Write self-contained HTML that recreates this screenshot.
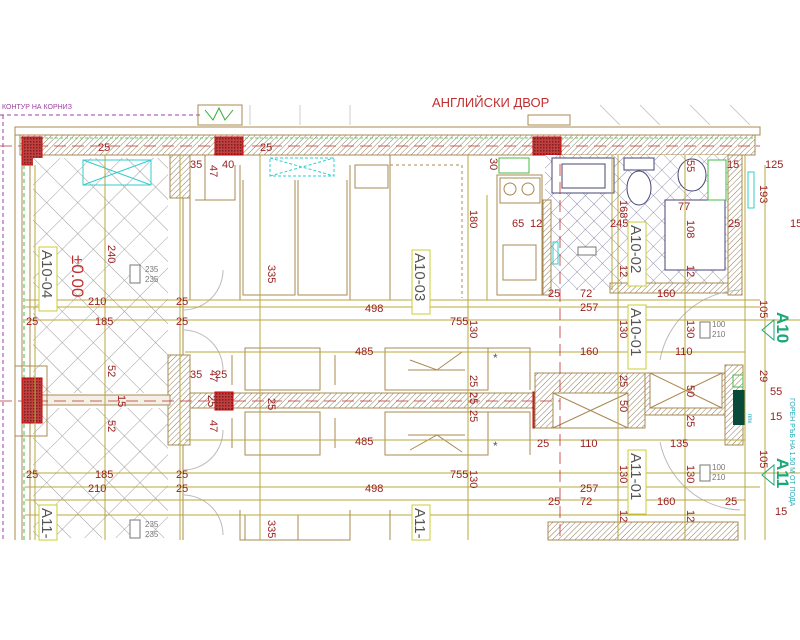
<!DOCTYPE html>
<html><head><meta charset="utf-8"><style>
html,body{margin:0;padding:0;background:#fff;}
svg{display:block;font-family:"Liberation Sans","DejaVu Sans",sans-serif;}
.d{fill:#9a2020;font-size:11px;}
.s{stroke:#a88850;fill:none;stroke-width:1;}
.dm{stroke:#b8a838;stroke-width:1;fill:none;}
</style></head><body>
<svg width="800" height="640" viewBox="0 0 800 640">
<defs>
<pattern id="h" width="4" height="4" patternUnits="userSpaceOnUse" patternTransform="rotate(45)"><rect width="4" height="4" fill="#fff"/><line x1="0" y1="0" x2="0" y2="4" stroke="#8c7a5a" stroke-width="1"/></pattern>
<pattern id="t" width="22" height="22" patternUnits="userSpaceOnUse" patternTransform="rotate(45)"><rect width="22" height="22" fill="#fff"/><path d="M0 0H22M0 0V22" stroke="#999" stroke-width="0.9"/></pattern>
<pattern id="tb" width="12" height="12" patternUnits="userSpaceOnUse" patternTransform="rotate(45)"><rect width="12" height="12" fill="#fff"/><path d="M0 0H12M0 0V12" stroke="#7a7a9a" stroke-width="0.8"/></pattern>
<pattern id="c" width="3" height="3" patternUnits="userSpaceOnUse"><rect width="3" height="3" fill="#c04040"/><rect width="1.5" height="1.5" fill="#7a2020"/></pattern>
</defs>
<rect width="800" height="640" fill="#fff"/>
<path d="M0 115H200M3 115V540" stroke="#a040a0" stroke-dasharray="4 3" fill="none"/>
<text x="2" y="109" font-size="7" fill="#a040a0">КОНТУР НА КОРНИЗ</text>
<text x="432" y="107" font-size="13" fill="#c03030">АНГЛИЙСКИ ДВОР</text>
<rect x="198" y="105" width="44" height="20" fill="none" stroke="#a88850"/>
<path d="M205 110l8 10 6-12 6 12 8-10" stroke="#3a3" fill="none"/>
<rect x="528" y="115" width="42" height="10" fill="none" stroke="#a88850"/>
<path d="M250 105V125M300 105V125M350 105V125M600 105L620 125M640 105L660 125M690 105L710 125M730 105L750 125" stroke="#ccc"/>
<rect x="15" y="127" width="745" height="8" fill="none" stroke="#a88850"/>
<rect x="20" y="135" width="735" height="20" fill="url(#h)" stroke="#a88850"/>
<line x1="20" y1="138" x2="755" y2="138" stroke="#6c6" stroke-dasharray="3 2"/>
<rect x="22" y="137" width="20" height="28" fill="url(#c)" stroke="#c00"/>
<rect x="215" y="137" width="28" height="18" fill="url(#c)" stroke="#c00"/>
<rect x="533" y="137" width="28" height="18" fill="url(#c)" stroke="#c00"/>
<rect x="33" y="158" width="135" height="235" fill="url(#t)"/>
<rect x="33" y="408" width="135" height="130" fill="url(#t)"/>
<path d="M15 135V540M22 165V540M30 165V540" class="s"/>
<line x1="24" y1="165" x2="24" y2="540" stroke="#4b4" stroke-dasharray="4 3"/>
<rect x="170" y="155" width="20" height="43" fill="url(#h)" stroke="#a88850"/>
<rect x="168" y="355" width="22" height="90" fill="url(#h)" stroke="#a88850"/>
<rect x="190" y="393" width="345" height="15" fill="url(#h)" stroke="#a88850"/>
<rect x="30" y="395" width="140" height="10" fill="#f4f0e8" stroke="#a88850"/>
<rect x="15" y="366" width="32" height="70" fill="none" stroke="#a88850"/>
<rect x="22" y="378" width="20" height="45" fill="url(#c)" stroke="#c00"/>
<rect x="215" y="392" width="18" height="18" fill="url(#c)" stroke="#c00"/>
<rect x="533" y="392" width="20" height="36" fill="url(#c)" stroke="#c00"/>
<path d="M180 198V355M183 198V355M180 445V540M183 445V540" class="s"/>
<path d="M183 310A40 40 0 0 0 223 270M183 330A40 40 0 0 1 223 370M183 470A40 40 0 0 0 223 430M183 495A40 40 0 0 1 223 535" stroke="#bbb" fill="none"/>
<rect x="83" y="160" width="68" height="25" fill="none" stroke="#3cc"/>
<path d="M83 160L151 185M83 185L151 160" stroke="#3cc"/>
<rect x="270" y="158" width="64" height="18" fill="none" stroke="#3cc" stroke-dasharray="3 2"/>
<path d="M270 158L334 176M270 176L334 158" stroke="#3cc" stroke-dasharray="3 2"/>
<path d="M190 198V300M240 165V300H350V165M243 180V295H295V180M298 180V295H347V180M355 165H388V188H355ZM390 155V300" class="s"/>
<path d="M390 165H462V298" stroke="#a88850" stroke-dasharray="3 3" fill="none"/>
<path d="M205 155V200M235 165V200H195" class="s"/>
<path d="M240 510V540H350V510M245 515V540M298 515V540M390 510V540" class="s"/>
<path d="M245 348H320V390H245ZM245 412H320V455H245ZM232 355V385M335 355V385M232 418V448M335 418V448M385 348H488V390H385ZM385 412H488V455H385ZM488 348H530V390M488 412H530V455M408 370H465M408 435H465M410 360L437 370L462 352M410 450L437 435L462 452" class="s"/>
<text x="493" y="362" font-size="12" fill="#555">*</text><text x="493" y="450" font-size="12" fill="#555">*</text>
<rect x="497" y="175" width="45" height="120" class="s"/>
<rect x="500" y="178" width="40" height="25" class="s"/><circle cx="510" cy="189" r="6" class="s"/><circle cx="528" cy="189" r="6" class="s"/>
<rect x="503" y="245" width="33" height="35" class="s"/>
<rect x="499" y="158" width="30" height="15" fill="none" stroke="#4b4"/>
<rect x="545" y="155" width="185" height="135" fill="url(#tb)"/>
<rect x="543" y="200" width="8" height="95" fill="url(#h)" stroke="#a88850"/>
<rect x="610" y="283" width="132" height="10" fill="url(#h)" stroke="#a88850"/>
<rect x="728" y="155" width="14" height="140" fill="url(#h)" stroke="#a88850"/>
<rect x="552" y="158" width="62" height="35" fill="#fff" stroke="#447"/><rect x="562" y="164" width="43" height="24" fill="none" stroke="#447"/>
<rect x="624" y="158" width="30" height="12" fill="#fff" stroke="#447"/><ellipse cx="639" cy="188" rx="12" ry="17" fill="#fff" stroke="#447"/>
<ellipse cx="692" cy="175" rx="14" ry="16" fill="#fff" stroke="#447"/>
<rect x="665" y="200" width="60" height="70" fill="#fff" stroke="#447"/>
<rect x="708" y="160" width="18" height="40" fill="#fff" stroke="#4b4"/>
<rect x="553" y="242" width="5" height="22" fill="none" stroke="#3cc"/>
<rect x="748" y="172" width="6" height="36" fill="none" stroke="#3cc"/>
<rect x="578" y="247" width="18" height="8" fill="#fff" stroke="#777"/>
<rect x="535" y="373" width="110" height="55" fill="url(#h)" stroke="#a88850"/>
<rect x="553" y="393" width="75" height="35" fill="#fff" stroke="#a88850"/><path d="M553 393L628 428M553 428L628 393" stroke="#a88850"/>
<rect x="645" y="373" width="80" height="42" fill="url(#h)" stroke="#a88850"/>
<rect x="650" y="373" width="72" height="35" fill="#fff" stroke="#a88850"/><path d="M650 373L722 408M650 408L722 373" stroke="#a88850"/>
<rect x="725" y="365" width="18" height="80" fill="url(#h)" stroke="#a88850"/>
<path d="M733 390L745 390L745 425L733 425Z" fill="#0a4a3a"/>
<rect x="733" y="375" width="10" height="12" fill="none" stroke="#4b4"/>
<path d="M660 360A85 85 0 0 1 740 290M660 442A85 85 0 0 0 740 510" stroke="#bbb" fill="none"/>
<rect x="548" y="522" width="190" height="18" fill="url(#h)" stroke="#a88850"/>
<g class="dm">
<path d="M25 300H760M25 307H760M25 320H800M185 352H745M185 440H745M25 473H800M25 487H760M25 500H745M25 515H745"/>
<path d="M105 155V540M180 155V540M260 155V540M468 155V540M618 155V540M685 155V540M745 155V540M765 165V540M35 165V540"/>
<path d="M612 155V290M487 195V300"/>
</g>
<path d="M0 146H760M0 401H560M560 146V540" stroke="#c03030" stroke-width="0.8" stroke-dasharray="12 6" fill="none"/>
<g class="d">
<text x="98" y="151">25</text><text x="190" y="168">35</text><text x="222" y="168">40</text><text x="260" y="151">25</text>
<text x="512" y="227">65</text><text x="530" y="227">12</text><text x="610" y="227">245</text>
<text x="727" y="168">15</text><text x="765" y="168">125</text><text x="728" y="227">25</text><text x="790" y="227">15</text>
<text x="678" y="210">77</text>
<text x="88" y="305">210</text><text x="176" y="305">25</text><text x="365" y="312">498</text>
<text x="26" y="325">25</text><text x="95" y="325">185</text><text x="176" y="325">25</text><text x="450" y="325">755</text>
<text x="548" y="297">25</text><text x="580" y="297">72</text><text x="657" y="297">160</text><text x="580" y="311">257</text>
<text x="355" y="355">485</text><text x="580" y="355">160</text><text x="675" y="355">110</text>
<text x="190" y="378">35</text><text x="215" y="378">25</text>
<text x="355" y="445">485</text><text x="537" y="447">25</text><text x="580" y="447">110</text><text x="670" y="447">135</text>
<text x="26" y="478">25</text><text x="95" y="478">185</text><text x="176" y="478">25</text><text x="450" y="478">755</text>
<text x="88" y="492">210</text><text x="176" y="492">25</text><text x="365" y="492">498</text><text x="580" y="492">257</text>
<text x="548" y="505">25</text><text x="580" y="505">72</text><text x="657" y="505">160</text><text x="725" y="505">25</text>
<text x="770" y="395">55</text><text x="770" y="420">15</text><text x="775" y="515">15</text>
<text transform="translate(108,245) rotate(90)">240</text>
<text transform="translate(268,265) rotate(90)">335</text>
<text transform="translate(268,520) rotate(90)">335</text>
<text transform="translate(108,365) rotate(90)">52</text>
<text transform="translate(108,420) rotate(90)">52</text>
<text transform="translate(118,395) rotate(90)">15</text>
<text transform="translate(210,165) rotate(90)">47</text>
<text transform="translate(210,370) rotate(90)">47</text>
<text transform="translate(210,420) rotate(90)">47</text>
<text transform="translate(208,395) rotate(90)">25</text>
<text transform="translate(268,398) rotate(90)">25</text>
<text transform="translate(470,210) rotate(90)">180</text>
<text transform="translate(470,320) rotate(90)">130</text>
<text transform="translate(470,470) rotate(90)">130</text>
<text transform="translate(470,375) rotate(90)">25</text><text transform="translate(470,392) rotate(90)">25</text><text transform="translate(470,410) rotate(90)">25</text>
<text transform="translate(490,158) rotate(90)">30</text>
<text transform="translate(620,320) rotate(90)">130</text><text transform="translate(620,465) rotate(90)">130</text>
<text transform="translate(687,320) rotate(90)">130</text><text transform="translate(687,465) rotate(90)">130</text>
<text transform="translate(620,375) rotate(90)">25</text><text transform="translate(687,385) rotate(90)">50</text>
<text transform="translate(620,400) rotate(90)">50</text><text transform="translate(687,415) rotate(90)">25</text>
<text transform="translate(620,200) rotate(90)">168</text><text transform="translate(687,220) rotate(90)">108</text>
<text transform="translate(687,160) rotate(90)">55</text>
<text transform="translate(620,265) rotate(90)">12</text><text transform="translate(687,265) rotate(90)">12</text>
<text transform="translate(620,510) rotate(90)">12</text><text transform="translate(687,510) rotate(90)">12</text>
<text transform="translate(760,185) rotate(90)">193</text>
<text transform="translate(760,300) rotate(90)">105</text><text transform="translate(760,450) rotate(90)">105</text>
<text transform="translate(760,370) rotate(90)">29</text>
</g>
<g font-size="15" fill="#555">
<rect x="39" y="247" width="18" height="64" fill="#fff" stroke="#cc3"/><text transform="translate(42,250) rotate(90)">A10-04</text>
<rect x="412" y="250" width="18" height="64" fill="#fff" stroke="#cc3"/><text transform="translate(415,253) rotate(90)">A10-03</text>
<rect x="628" y="222" width="18" height="64" fill="#fff" stroke="#cc3"/><text transform="translate(631,225) rotate(90)">A10-02</text>
<rect x="628" y="305" width="18" height="64" fill="#fff" stroke="#cc3"/><text transform="translate(631,308) rotate(90)">A10-01</text>
<rect x="628" y="450" width="18" height="64" fill="#fff" stroke="#cc3"/><text transform="translate(631,453) rotate(90)">A11-01</text>
<rect x="39" y="505" width="18" height="35" fill="#fff" stroke="#cc3"/><text transform="translate(42,508) rotate(90)">A11-</text>
<rect x="412" y="505" width="18" height="35" fill="#fff" stroke="#cc3"/><text transform="translate(415,508) rotate(90)">A11-</text>
</g>
<text transform="translate(72,255) rotate(90)" font-size="17" fill="#c03030">±0.00</text>
<g font-size="8" fill="#777"><rect x="130" y="265" width="10" height="18" fill="#fff" stroke="#777"/><text x="145" y="272">235</text><text x="145" y="282">235</text>
<rect x="130" y="520" width="10" height="18" fill="#fff" stroke="#777"/><text x="145" y="527">235</text><text x="145" y="537">235</text>
<rect x="700" y="322" width="10" height="16" fill="#fff" stroke="#777"/><text x="712" y="327">100</text><text x="712" y="337">210</text>
<rect x="700" y="465" width="10" height="16" fill="#fff" stroke="#777"/><text x="712" y="470">100</text><text x="712" y="480">210</text></g>
<g font-size="17" font-weight="bold" fill="#1aa878">
<text transform="translate(777,312) rotate(90)">A10</text>
<text transform="translate(777,458) rotate(90)">A11</text>
</g>
<path d="M762 330L774 320V340Z M762 475L774 465V485Z" stroke="#1aa878" fill="none"/>
<text transform="translate(790,398) rotate(90)" font-size="7" fill="#2ab">ГОРЕН РЪБ НА 1.50 М ОТ ПОДА</text>
<text transform="translate(748,414) rotate(90)" font-size="6" fill="#2ab">ппк</text>
</svg>
</body></html>
